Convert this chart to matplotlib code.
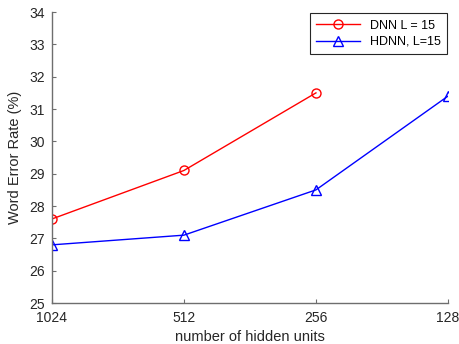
import matplotlib
matplotlib.use('Agg')
import matplotlib.pyplot as plt

plt.rcParams['font.family'] = ['Liberation Sans', 'DejaVu Sans']

xlabels = ['1024', '512', '256', '128']
dnn = [27.6, 29.1, 31.5]
hdnn = [26.8, 27.1, 28.5, 31.4]

fig = plt.figure(figsize=(4.59, 3.44), dpi=100)
ax = fig.add_axes([0.113, 0.119, 0.863, 0.846])

ax.plot(range(1, len(dnn) + 1), dnn, 'r-o', markerfacecolor='none', markersize=6.5,
        linewidth=1, label='DNN L = 15')
ax.plot(range(1, len(hdnn) + 1), hdnn, 'b-^', markerfacecolor='none', markersize=7,
        linewidth=1, label='HDNN, L=15')

ax.set_xlim(1, 4)
ax.set_ylim(25, 34)
ax.set_xticks(range(1, 5))
ax.set_xticklabels(xlabels)
ax.set_yticks(range(25, 35))
ax.set_xlabel('number of hidden units', fontsize=10.5, labelpad=3, color='#262626')
ax.set_ylabel('Word Error Rate (%)', fontsize=10.5, labelpad=5, color='#262626')

for s in ['top', 'right']:
    ax.spines[s].set_visible(False)
for s in ['left', 'bottom']:
    ax.spines[s].set_color('#6e6e6e')
    ax.spines[s].set_linewidth(1)
ax.tick_params(direction='in', length=3, labelsize=10, colors='#262626')
ax.tick_params(axis='both', color='#6e6e6e')
ax.tick_params(axis='x', pad=6)
ax.tick_params(axis='y', pad=5)

leg = ax.legend(loc='upper right', fontsize=9, fancybox=False, framealpha=1,
                edgecolor='#262626', borderaxespad=0.1, handlelength=3.5,
                labelspacing=0.35, borderpad=0.5)
leg.get_frame().set_linewidth(0.8)

fig.savefig('out.png', dpi=100)
